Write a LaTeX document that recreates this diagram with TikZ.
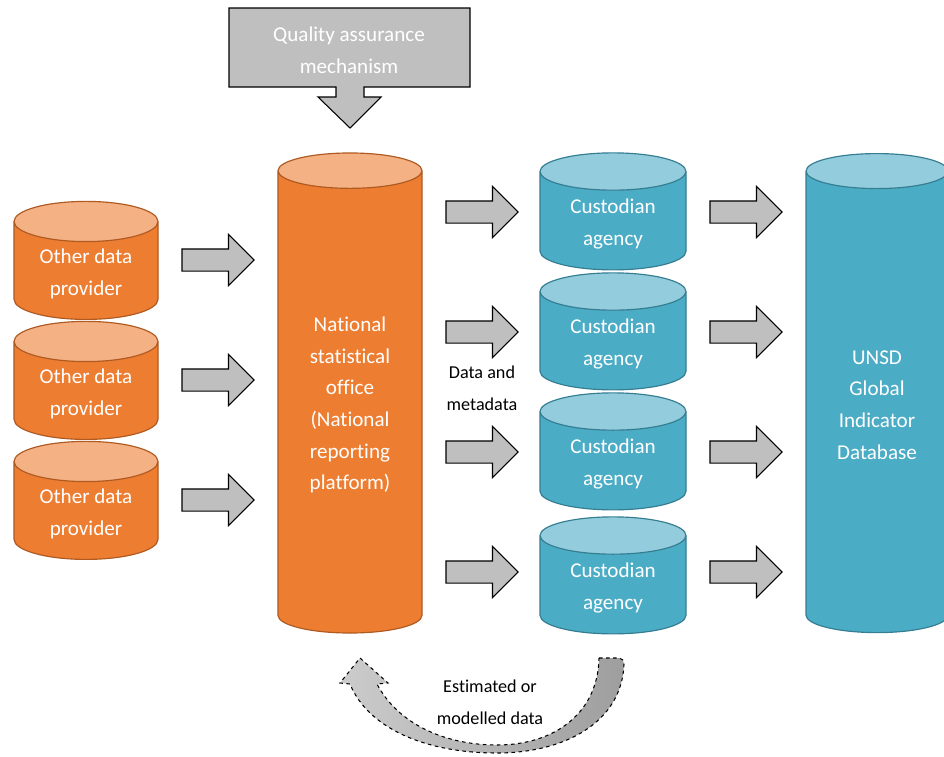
\documentclass[tikz,border=0pt]{standalone}
\usepackage{fontspec}
\setmainfont{Carlito}[Ligatures=NoCommon]
\usetikzlibrary{shapes.geometric,shapes.arrows,positioning}
\definecolor{orbody}{HTML}{ED7D31}
\definecolor{ortop}{HTML}{F4B183}
\definecolor{orline}{HTML}{AE5A21}
\definecolor{blbody}{HTML}{4BACC6}
\definecolor{bltop}{HTML}{93CDDD}
\definecolor{blline}{HTML}{357D91}
\definecolor{arrgray}{HTML}{BFBFBF}
\tikzset{
    orangedb/.style={
    cylinder,shape border rotate=90,aspect=0.4,draw=orline,line width=1pt,
    cylinder uses custom fill,cylinder body fill=orbody,cylinder end fill=ortop,
    text=white,align=center,font=\fontsize{18}{27}\selectfont
    },
    bluedb/.style={
    cylinder,shape border rotate=90,aspect=0.4,draw=blline,line width=1pt,
    cylinder uses custom fill,cylinder body fill=blbody,cylinder end fill=bltop,
    text=white,align=center,font=\fontsize{18}{27}\selectfont
    },
    bigarrow/.style={
    single arrow,draw=black,fill=arrgray,line width=0.9pt,inner xsep=0pt,inner ysep=0.315cm,
    minimum height=2.16cm,single arrow head extend=0.435cm
    },
    smalltext/.style={
    align=center,font=\fontsize{15.5}{27}\selectfont
    },
}

\begin{document}
\begin{tikzpicture}[x=0.03cm, y=-0.03cm]
   \useasboundingbox (0,0) rectangle (944,757);

   %quality assurance
   \draw[fill=arrgray,line width=0.9pt] (229,8) -- (470,8) -- (470,87) -- (364,87) -- (364,97)
      -- (381,97) -- (350,128) -- (318,97) -- (336,97) -- (336,87) -- (229,87) -- cycle;
   \node[text=white,align=center,font=\fontsize{18}{27}\selectfont] (qam) at (349,50) {Quality assurance\\mechanism};

   %other data providers
   \node[orangedb,minimum width=4.32cm,minimum height=3.54cm] (odp1) at (86,274) {Other data\\provider};
   \node[orangedb,minimum width=4.32cm,minimum height=3.54cm] (odp2) at (86,394) {Other data\\provider};
   \node[orangedb,minimum width=4.32cm,minimum height=3.54cm] (odp3) at (86,514) {Other data\\provider};

   %national statistical office
   \node[orangedb,minimum width=4.32cm,minimum height=14.4cm] (nso) at (350,405)
      {National\\statistical\\office\\(National\\reporting\\platform)};

   %custodian agencies
   \node[bluedb,minimum width=4.38cm,minimum height=3.51cm] (ca1) at (613,224) {Custodian\\agency};
   \node[bluedb,minimum width=4.38cm,minimum height=3.51cm] (ca2) at (613,344) {Custodian\\agency};
   \node[bluedb,minimum width=4.38cm,minimum height=3.51cm] (ca3) at (613,464) {Custodian\\agency};
   \node[bluedb,minimum width=4.38cm,minimum height=3.51cm] (ca4) at (613,588) {Custodian\\agency};

   %global database
   \node[bluedb,minimum width=4.26cm,minimum height=14.37cm] (unsd) at (877,405)
      {UNSD\\Global\\Indicator\\Database};

   %block arrows
   \node[bigarrow] (a1) at (212.5,260) {};
   \node[bigarrow] (a2) at (212.5,380) {};
   \node[bigarrow] (a3) at (212.5,500) {};
   \node[bigarrow] (b1) at (476.5,212) {};
   \node[bigarrow] (b2) at (476.5,332) {};
   \node[bigarrow] (b3) at (476.5,452) {};
   \node[bigarrow] (b4) at (476.5,572) {};
   \node[bigarrow] (c1) at (740.5,212) {};
   \node[bigarrow] (c2) at (740.5,332) {};
   \node[bigarrow] (c3) at (740.5,452) {};
   \node[bigarrow] (c4) at (740.5,572) {};

   \node[smalltext] (dm) at (482,388) {Data and\\metadata};

   %estimated data back to nso
   \draw[dashed,line width=0.9pt,left color=black!20,right color=black!38]
      (599,658) -- (619,658) to[out=0,in=90] (624,664)
      .. controls (622,722) and (565,753) .. (497,753)
      .. controls (425,753) and (368,728) .. (350,684)
      -- (340,683) -- (360,658) -- (388,683) -- (377,684)
      .. controls (398,724) and (445,745) .. (497,745)
      .. controls (556,745) and (598,712) .. (599,658) -- cycle;
   \node[smalltext] (emd) at (490,702) {Estimated or\\modelled data};
\end{tikzpicture}
\end{document}
